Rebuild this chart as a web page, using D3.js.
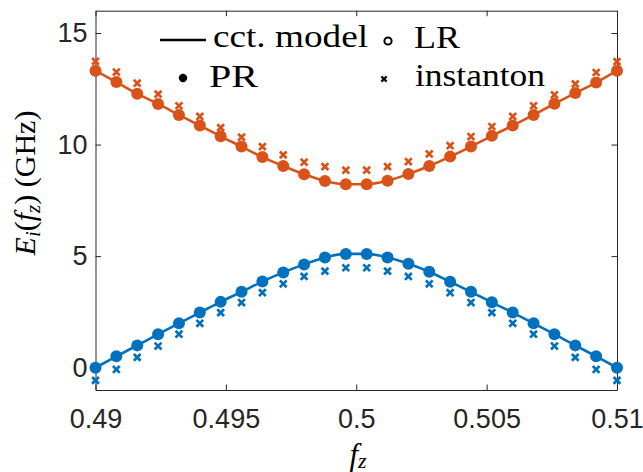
<!DOCTYPE html>
<html>
<head>
<meta charset="utf-8">
<script src="https://cdn.jsdelivr.net/npm/d3@7"></script>
<style>
  html, body { margin: 0; padding: 0; background: #fff; }
  svg { display: block; }
  .tick text { font-family: "Liberation Sans", Arial, sans-serif; font-size: 27px; fill: #262626; }
  .tick line { stroke: #262626; }
  .serif { font-family: "Liberation Serif", "Times New Roman", serif; fill: #000; }
</style>
</head>
<body>
<svg id="chart" width="643" height="472"></svg>
<script>
// Flux bias points f_z
const fz = [0.4900, 0.4908, 0.4916, 0.4924, 0.4932, 0.4940, 0.4948, 0.4956, 0.4964,
            0.4972, 0.4980, 0.4988, 0.4996, 0.5004, 0.5012, 0.5020, 0.5028, 0.5036,
            0.5044, 0.5052, 0.5060, 0.5068, 0.5076, 0.5084, 0.5092, 0.5100];

// Upper level E_1 (GHz)
const upperPR   = [13.31, 12.80, 12.28, 11.82, 11.33, 10.85, 10.37, 9.91, 9.44, 9.04, 8.67, 8.37, 8.22,
                   8.22, 8.38, 8.68, 9.04, 9.46, 9.91, 10.39, 10.85, 11.33, 11.83, 12.31, 12.78, 13.31];
const upperLR   = [13.31, 12.80, 12.28, 11.82, 11.33, 10.85, 10.37, 9.91, 9.44, 9.04, 8.67, 8.37, 8.22,
                   8.22, 8.38, 8.68, 9.04, 9.46, 9.91, 10.39, 10.85, 11.33, 11.83, 12.31, 12.78, 13.31];
const upperInst = [13.73, 13.25, 12.75, 12.26, 11.74, 11.26, 10.76, 10.33, 9.91, 9.54, 9.21, 9.01, 8.85,
                   8.85, 9.01, 9.24, 9.58, 9.95, 10.36, 10.81, 11.26, 11.74, 12.23, 12.72, 13.23, 13.72];

// Lower level E_0 (GHz)
const lowerPR   = [0.00, 0.51, 1.00, 1.50, 1.99, 2.47, 2.95, 3.40, 3.86, 4.27, 4.63, 4.94, 5.10,
                   5.10, 4.94, 4.66, 4.30, 3.85, 3.40, 2.93, 2.47, 1.99, 1.50, 1.00, 0.51, 0.00];
const lowerLR   = [0.00, 0.51, 1.00, 1.50, 1.99, 2.47, 2.95, 3.40, 3.86, 4.27, 4.63, 4.94, 5.10,
                   5.10, 4.94, 4.66, 4.30, 3.85, 3.40, 2.93, 2.47, 1.99, 1.50, 1.00, 0.51, 0.00];
const lowerInst = [-0.57, -0.08, 0.46, 0.97, 1.50, 1.99, 2.47, 2.92, 3.36, 3.76, 4.09, 4.33, 4.48,
                   4.48, 4.33, 4.09, 3.76, 3.36, 2.92, 2.47, 1.99, 1.50, 0.97, 0.46, -0.08, -0.57];

const xTicks = [0.49, 0.495, 0.5, 0.505, 0.51];
const xTickLabels = ["0.49", "0.495", "0.5", "0.505", "0.51"];
const yTicks = [0, 5, 10, 15];
const yTickLabels = ["0", "5", "10", "15"];
const legendLabels = ["cct. model", "LR", "PR", "instanton"];

const seriesColors = ["#D95319", "#0072BD"];

const svg = d3.select("#chart");
const plot = { left: 95.5, right: 617, top: 10.7, bottom: 390 };

const x = d3.scaleLinear().domain([0.49, 0.51]).range([plot.left, plot.right]);
const y = d3.scaleLinear().domain([-1, 16]).range([plot.bottom, plot.top]);

const levels = [
  { pr: upperPR, lr: upperLR, inst: upperInst, color: seriesColors[0] },
  { pr: lowerPR, lr: lowerLR, inst: lowerInst, color: seriesColors[1] }
];

// Axes with inward ticks on all four sides
const axisColor = "#262626";
function styleAxis(g) {
  g.select(".domain").attr("stroke", axisColor).attr("stroke-width", 1);
  g.selectAll(".tick line").attr("stroke-width", 1);
}
svg.append("g").attr("transform", `translate(0,${plot.bottom})`)
  .call(d3.axisBottom(x).tickValues(xTicks).tickFormat((d, i) => xTickLabels[i])
    .tickSizeInner(-5.5).tickSizeOuter(0).tickPadding(19))
  .call(styleAxis);
svg.append("g").attr("transform", `translate(0,${plot.top})`)
  .call(d3.axisTop(x).tickValues(xTicks).tickFormat("").tickSizeInner(-5.5).tickSizeOuter(0))
  .call(styleAxis);
svg.append("g").attr("transform", `translate(${plot.left},0)`)
  .call(d3.axisLeft(y).tickValues(yTicks).tickFormat((d, i) => yTickLabels[i])
    .tickSizeInner(-5.5).tickSizeOuter(0).tickPadding(8))
  .call(styleAxis);
svg.append("g").attr("transform", `translate(${plot.right},0)`)
  .call(d3.axisRight(y).tickValues(yTicks).tickFormat("").tickSizeInner(-5.5).tickSizeOuter(0))
  .call(styleAxis);

// Data layers
const line = d3.line().x((d, i) => x(fz[i])).y(d => y(d)).curve(d3.curveMonotoneX);
const xMark = (cx, cy, s) => `M${cx - s},${cy - s}L${cx + s},${cy + s}M${cx - s},${cy + s}L${cx + s},${cy - s}`;

levels.forEach(lv => {
  const g = svg.append("g");
  // circuit model curve
  g.append("path").attr("d", line(lv.pr))
    .attr("fill", "none").attr("stroke", lv.color).attr("stroke-width", 2.6);
  // LR (open circles)
  g.selectAll(".lr").data(lv.lr).join("circle")
    .attr("cx", (d, i) => x(fz[i])).attr("cy", d => y(d)).attr("r", 4)
    .attr("fill", "none").attr("stroke", lv.color).attr("stroke-width", 2);
  // PR (filled circles)
  g.selectAll(".pr").data(lv.pr).join("circle")
    .attr("cx", (d, i) => x(fz[i])).attr("cy", d => y(d)).attr("r", 6)
    .attr("fill", lv.color);
  // instanton (crosses)
  g.selectAll(".inst").data(lv.inst).join("path")
    .attr("d", (d, i) => xMark(x(fz[i]), y(d), 3.4))
    .attr("fill", "none").attr("stroke", lv.color).attr("stroke-width", 2.7);
});

// Legend (two rows, two columns, no frame)
const leg = svg.append("g").attr("class", "serif").style("font-size", "31px");
const legText = (tx, ty, label, width) =>
  leg.append("text").attr("x", tx).attr("y", ty)
    .attr("textLength", width).attr("lengthAdjust", "spacingAndGlyphs").text(label);
leg.append("line").attr("x1", 160).attr("x2", 206).attr("y1", 40).attr("y2", 40)
  .attr("stroke", "#000").attr("stroke-width", 2.6);
legText(213, 47, legendLabels[0], 155);
leg.append("circle").attr("cx", 388).attr("cy", 41).attr("r", 3.6)
  .attr("fill", "none").attr("stroke", "#000").attr("stroke-width", 2);
legText(414, 48, legendLabels[1], 46);
leg.append("circle").attr("cx", 183).attr("cy", 78).attr("r", 4.2).attr("fill", "#000");
legText(209, 87, legendLabels[2], 49);
leg.append("path").attr("d", xMark(384, 79, 2.6))
  .attr("stroke", "#000").attr("stroke-width", 2.2).attr("fill", "none");
legText(415, 86, legendLabels[3], 130);

// Axis titles
const xt = svg.append("text").attr("class", "serif").attr("text-anchor", "middle")
  .attr("x", 358).attr("y", 465).style("font-size", "31px");
xt.append("tspan").style("font-style", "italic").text("f");
xt.append("tspan").style("font-style", "italic").style("font-size", "22px").attr("dy", 3).text("z");

const yt = svg.append("text").attr("class", "serif").attr("text-anchor", "middle")
  .attr("transform", "translate(35,183) rotate(-90)").style("font-size", "30px");
yt.append("tspan").style("font-style", "italic").text("E");
yt.append("tspan").style("font-style", "italic").style("font-size", "21px").attr("dy", 5).text("i");
yt.append("tspan").attr("dy", -5).text("(");
yt.append("tspan").style("font-style", "italic").text("f");
yt.append("tspan").style("font-style", "italic").style("font-size", "21px").attr("dy", 5).text("z");
yt.append("tspan").attr("dy", -5).text(") (GHz)");
</script>
</body>
</html>
